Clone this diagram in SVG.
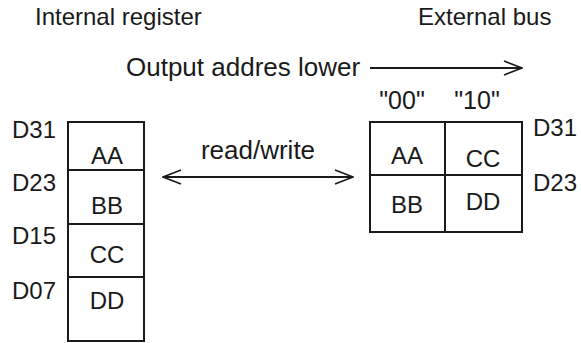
<svg xmlns="http://www.w3.org/2000/svg" width="581" height="343" viewBox="0 0 581 343">
<style>
text{font-family:"Liberation Sans",Arial,sans-serif;font-size:24px;fill:#1a1a1a}
.c{text-anchor:middle}
.big{font-size:26px}
.box{fill:none;stroke:#1a1a1a;stroke-width:2}
.ln{fill:none;stroke:#1a1a1a;stroke-width:2}
</style>
<defs>
<marker id="ah" markerWidth="20" markerHeight="16" refX="19" refY="8" orient="auto-start-reverse" markerUnits="userSpaceOnUse">
<path d="M1,1 L19,8 L1,15" fill="none" stroke="#1a1a1a" stroke-width="1.6"/>
</marker>
</defs>
<text x="35" y="25">Internal register</text>
<text x="418" y="25">External bus</text>
<text class="big" x="126" y="76">Output addres lower</text>
<g id="internal">
<rect class="box" x="68" y="122" width="76" height="219"/>
<line class="ln" x1="68" y1="170" x2="144" y2="170"/>
<line class="ln" x1="68" y1="224" x2="144" y2="224"/>
<line class="ln" x1="68" y1="277" x2="144" y2="277"/>
<text class="c" x="107" y="164">AA</text>
<text class="c" x="107" y="214">BB</text>
<text class="c" x="107" y="263">CC</text>
<text class="c" x="107" y="309">DD</text>
<text x="12" y="138">D31</text>
<text x="12" y="191">D23</text>
<text x="12" y="244">D15</text>
<text x="12" y="299">D07</text>
</g>
<g id="external">
<rect class="box" x="370" y="122" width="152" height="110"/>
<line class="ln" x1="445" y1="122" x2="445" y2="232"/>
<line class="ln" x1="370" y1="175" x2="522" y2="175"/>
<text class="c" x="407" y="164">AA</text>
<text class="c" x="483" y="167">CC</text>
<text class="c" x="407" y="213">BB</text>
<text class="c" x="483" y="210">DD</text>
<text class="c" x="402" y="109" style="font-size:25px">"00"</text>
<text class="c" x="477" y="109" style="font-size:25px">"10"</text>
<text x="533" y="136">D31</text>
<text x="533" y="191">D23</text>
</g>
<g id="connectors">
<line class="ln" x1="163" y1="177" x2="353" y2="177" marker-start="url(#ah)" marker-end="url(#ah)"/>
<line class="ln" x1="370" y1="68" x2="522" y2="68" marker-end="url(#ah)"/>
<text class="c big" x="258" y="159">read/write</text>
</g>
</svg>
